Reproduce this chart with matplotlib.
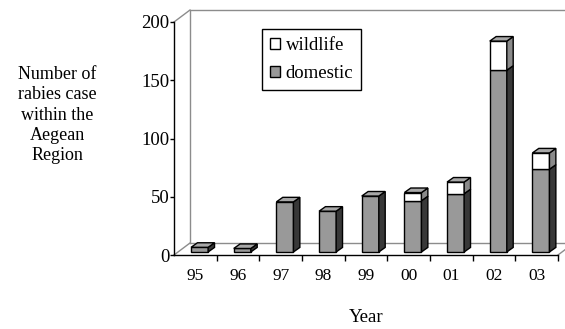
#!/usr/bin/env python3
"""Rabies cases in the Aegean region, pseudo-3D stacked bar chart (Excel style)."""
from __future__ import annotations

import matplotlib

matplotlib.use("Agg")
import matplotlib.pyplot as plt
from matplotlib.patches import Patch

YEARS = ["95", "96", "97", "98", "99", "00", "01", "02", "03"]
DOMESTIC = [4, 3, 43, 35, 48, 44, 50, 156, 71]
WILDLIFE = [0, 0, 0, 0, 0, 7, 10, 25, 14]
Y_TICKS = [0, 50, 100, 150, 200]

# depth of the back wall and of each bar, in data units
WALL_DX, WALL_DY = 0.375, 10.3
BAR_DX, BAR_DY = 0.15, 3.9
BAR_LEFT, BAR_WIDTH, BAR_BASE = 0.40, 0.40, 2.6

DOM_COLORS = {"front": "#999999", "side": "#383838", "top": "#a8a8a8"}
WILD_COLORS = {"front": "#ffffff", "side": "#8a8a8a", "top": "#a8a8a8"}
WALL_COLOR = "#8c8c8c"
LW = 1.0


def draw_walls(ax, n: int, ymax: float) -> None:
    kw = dict(color=WALL_COLOR, linewidth=LW, clip_on=False, zorder=1)
    ax.plot([WALL_DX, WALL_DX, n + WALL_DX], [WALL_DY, ymax + WALL_DY, ymax + WALL_DY], **kw)
    ax.plot([WALL_DX, n + WALL_DX], [WALL_DY, WALL_DY], **kw)
    ax.plot([0, WALL_DX], [0, WALL_DY], **kw)
    ax.plot([0, WALL_DX], [ymax, ymax + WALL_DY], **kw)
    ax.plot([n, n + WALL_DX], [0, WALL_DY], **kw)


def draw_segment(ax, x0: float, bottom: float, top: float, colors: dict, with_top: bool, z: float) -> None:
    x1 = x0 + BAR_WIDTH
    ax.bar(x0, top - bottom, width=BAR_WIDTH, bottom=bottom, align="edge",
           color=colors["front"], edgecolor="black", linewidth=LW, zorder=z)
    ax.fill([x1, x1 + BAR_DX, x1 + BAR_DX, x1], [bottom, bottom + BAR_DY, top + BAR_DY, top],
            facecolor=colors["side"], edgecolor="black", linewidth=LW, zorder=z)
    if with_top:
        ax.fill([x0, x0 + BAR_DX, x1 + BAR_DX, x1], [top, top + BAR_DY, top + BAR_DY, top],
                facecolor=colors["top"], edgecolor="black", linewidth=LW, zorder=z)


def main() -> None:
    plt.rcParams["font.family"] = ["Liberation Serif", "DejaVu Serif"]
    fig = plt.figure(figsize=(5.65, 3.29), dpi=100)
    ax = fig.add_axes([174 / 565, 74 / 329, 384 / 565, 233 / 329])
    n = len(YEARS)
    ax.set_xlim(0, n)
    ax.set_ylim(0, 200)

    draw_walls(ax, n, 200)

    for i, (dom, wild) in enumerate(zip(DOMESTIC, WILDLIFE)):
        x0 = i + BAR_LEFT
        z = 3 + i * 0.1
        dom_top = BAR_BASE + dom
        draw_segment(ax, x0, BAR_BASE, dom_top, DOM_COLORS, wild == 0, z)
        if wild > 0:
            draw_segment(ax, x0, dom_top, dom_top + wild, WILD_COLORS, True, z)

    for side in ["top", "right"]:
        ax.spines[side].set_visible(False)
    for side in ["left", "bottom"]:
        ax.spines[side].set_color("black")
        ax.spines[side].set_linewidth(1.0)
        ax.spines[side].set_zorder(5)
    ax.patch.set_visible(False)

    ax.set_yticks(Y_TICKS)
    ax.tick_params(axis="y", direction="out", length=3, width=1, pad=0.5, labelsize=13.5)
    ax.set_xticks([i + 0.5 for i in range(n)])
    ax.set_xticklabels(YEARS)
    ax.set_xticks(range(1, n + 1), minor=True)
    ax.tick_params(axis="x", which="major", length=0, pad=9.5, labelsize=12.5)
    ax.tick_params(axis="x", which="minor", direction="out", length=4, width=1)

    handles = [
        Patch(facecolor=WILD_COLORS["front"], edgecolor="black", linewidth=LW),
        Patch(facecolor=DOM_COLORS["front"], edgecolor="black", linewidth=LW),
    ]
    leg = ax.legend(handles, ["wildlife", "domestic"], loc="upper left",
                    bbox_to_anchor=(0.229, 0.97), borderaxespad=0, fontsize=13.5,
                    frameon=True, fancybox=False, framealpha=1, edgecolor="black",
                    handlelength=0.55, handleheight=0.55, handletextpad=0.3,
                    labelspacing=0.6, borderpad=0.42)
    leg.get_frame().set_linewidth(1.0)
    leg.set_zorder(10)

    fig.text(57 / 565, 1 - 115 / 329, "Number of\nrabies case\nwithin the\nAegean\nRegion",
             ha="center", va="center", multialignment="center", fontsize=13, linespacing=1.25)
    fig.text(366 / 565, 1 - 318 / 329, "Year", ha="center", va="center", fontsize=13.5)

    fig.savefig("out.png", dpi=100)


if __name__ == "__main__":
    main()
